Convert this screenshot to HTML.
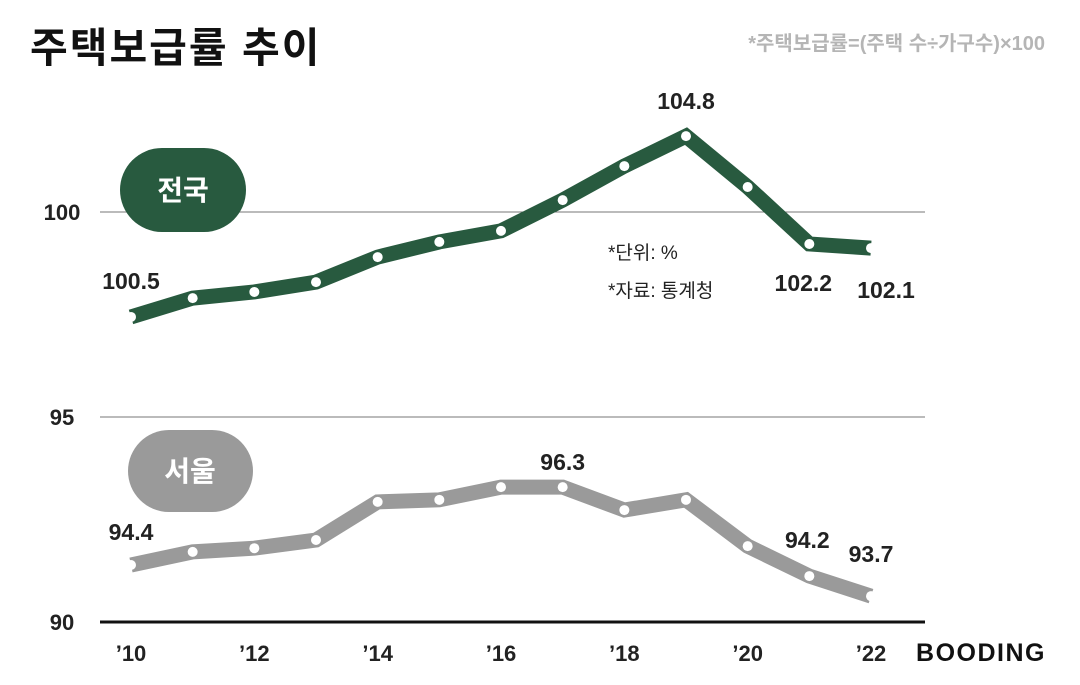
<!DOCTYPE html>
<html><head><meta charset="utf-8"><style>
html,body{margin:0;padding:0;background:#fff;}
body{width:1080px;height:680px;overflow:hidden;font-family:"Liberation Sans","Noto Sans CJK KR",sans-serif;}
</style></head><body>
<svg id="chart" width="1080" height="680" xmlns="http://www.w3.org/2000/svg" font-family="Liberation Sans, Noto Sans CJK KR, sans-serif">
<text x="30" y="62" font-size="41" font-weight="bold" fill="#111" letter-spacing="2">주택보급률 추이</text>
<text x="1045" y="50" font-size="20" font-weight="bold" fill="#b5b5b5" text-anchor="end">*주택보급률=(주택 수÷가구수)×100</text>
<g id="grid"></g>
<g id="series"></g>
<rect x="120" y="148" width="126" height="84" rx="42" fill="#285a3f"/>
<text x="183" y="200" font-size="28" font-weight="bold" fill="#fff" text-anchor="middle">전국</text>
<rect x="128" y="430" width="125" height="82" rx="41" fill="#9a9a9a"/>
<text x="190" y="481" font-size="28" font-weight="bold" fill="#fff" text-anchor="middle">서울</text>
<text x="608" y="259" font-size="19" fill="#222">*단위: %</text>
<text x="608" y="297" font-size="19" fill="#222">*자료: 통계청</text>
<text x="1046" y="661" font-size="25" font-weight="bold" fill="#111" text-anchor="end" letter-spacing="1.5">BOODING</text>
</svg>
<script>
const years = ["’10","’11","’12","’13","’14","’15","’16","’17","’18","’19","’20","’21","’22"];
const xTickLabels = ["’10","’12","’14","’16","’18","’20","’22"];
const yTicks = [90,95,100];
const nationalValues = [97.44,97.90,98.05,98.29,98.90,99.27,99.54,100.29,101.12,101.85,100.61,99.22,99.12];
const seoulValues = [91.39,91.71,91.80,92.0,92.93,92.98,93.29,93.29,92.73,92.98,91.85,91.12,90.63];
const nationalLabels = [[0,"100.5"],[9,"104.8"],[11,"102.2"],[12,"102.1"]];
const seoulLabels = [[0,"94.4"],[7,"96.3"],[11,"94.2"],[12,"93.7"]];
const NS="http://www.w3.org/2000/svg";
const xScale=i=>131+i*(871-131)/(years.length-1);
const yScale=v=>622-(v-90)*41;
function mk(t,a,p){const e=document.createElementNS(NS,t);for(const k in a)e.setAttribute(k,a[k]);p.appendChild(e);return e;}
const grid=document.getElementById('grid'),ser=document.getElementById('series');
yTicks.forEach(v=>{
  const l=mk('line',{x1:100,x2:925,y1:yScale(v),y2:yScale(v),stroke:v===90?'#111':'#777','stroke-width':v===90?3:1},grid);
  
  
  const t=mk('text',{x:62,y:yScale(v)+8,'font-size':22,'font-weight':'bold',fill:'#222','text-anchor':'middle'},grid);
  t.textContent=v;
  
  
});
xTickLabels.forEach(lb=>{
  const i=years.indexOf(lb);
  const t=mk('text',{x:xScale(i),y:661,'font-size':22,'font-weight':'bold',fill:'#222','text-anchor':'middle'},grid);
  t.textContent=lb;
  
  
});
function draw(vals,color,name,labels,offs){
  const p=mk('polyline',{points:vals.map((v,i)=>xScale(i)+','+yScale(v)).join(' '),fill:'none',stroke:color,'stroke-width':15,'stroke-linejoin':'miter','stroke-linecap':'butt'},ser);
  
  
  vals.forEach((v,i)=>{
    const c=mk('circle',{cx:xScale(i),cy:yScale(v),r:5,fill:'#fff'},ser);
    
    
  });
  labels.forEach(([i,txt],k)=>{
    const t=mk('text',{x:xScale(i)+offs[k][0],y:yScale(vals[i])+offs[k][1],'font-size':23,'font-weight':'bold',fill:'#222','text-anchor':'middle'},ser);
    t.textContent=txt;
    
    
  });
}
draw(nationalValues,'#285a3f','national',nationalLabels,[[0,-28],[0,-27],[-6,47],[15,50]]);
draw(seoulValues,'#9a9a9a','seoul',seoulLabels,[[0,-25],[0,-17],[-2,-28],[0,-34]]);
</script>
</body></html>
